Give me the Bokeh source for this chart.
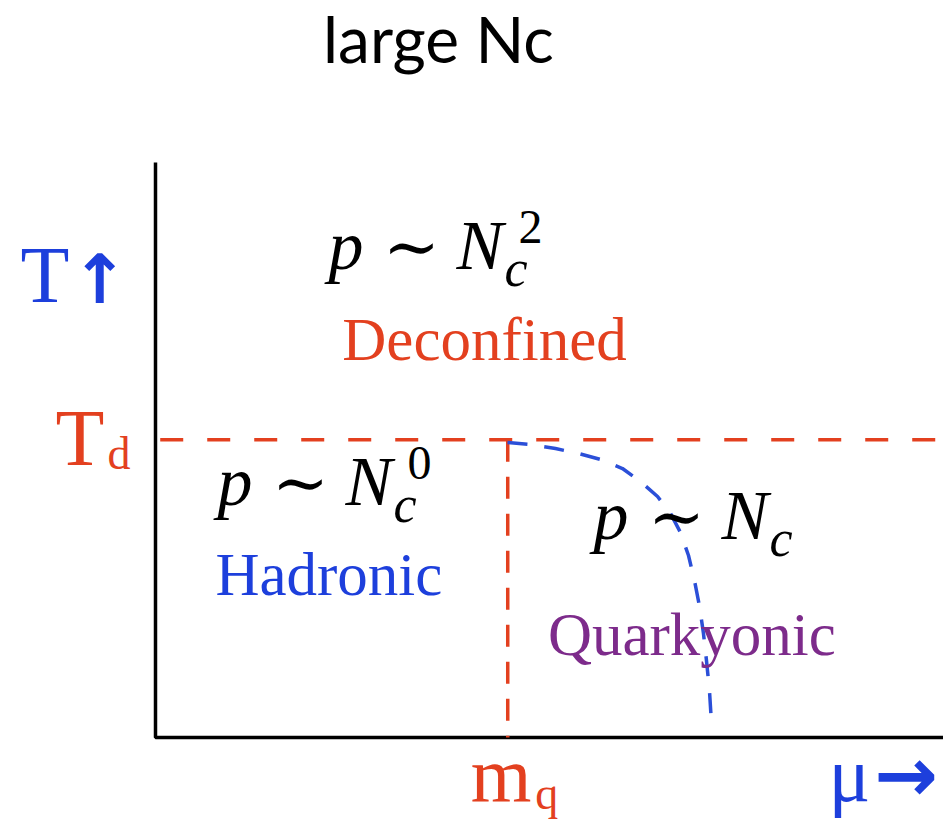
from bokeh.plotting import figure
from bokeh.models import Range1d, ColumnDataSource
from bokeh.core.properties import value
from bokeh.embed import file_html
from bokeh.resources import INLINE

# Schematic phase diagram of QCD at large N_c, axes normalised to 1
T_d = 0.518        # deconfinement temperature
m_q = 0.447        # quark chemical potential where baryon matter appears
mu_max = 1.0
T_max = 1.0

# boundary between hadronic and quarkyonic matter
boundary_mu = [0.4467, 0.4759, 0.5076, 0.5368, 0.5647, 0.5926, 0.6155, 0.6371, 0.6536,
               0.6662, 0.6764, 0.6840, 0.6904, 0.6954, 0.6992, 0.7030, 0.7056]
boundary_T = [0.5130, 0.5096, 0.5026, 0.4939, 0.4835, 0.4678, 0.4452, 0.4191, 0.3896,
              0.3565, 0.3165, 0.2730, 0.2278, 0.1809, 0.1339, 0.0817, 0.0243]

phase_names = ["Deconfined", "Hadronic", "Quarkyonic"]
pressure_exponents = ["2", "0", ""]   # p ~ N_c^k ; empty -> k = 1

RED = "#e3401f"
BLUE = "#1d3fdc"
PURPLE = "#7d2b8b"
DASH_BLUE = "#2b4fd8"

p = figure(width=943, height=830,
           x_range=Range1d(-0.1967, 1.0), y_range=Range1d(-0.1617, 1.2817),
           output_backend="svg", toolbar_location=None,
           x_axis_location=None, y_axis_location=None, min_border=0)
p.grid.visible = False
p.outline_line_color = None
p.background_fill_color = "white"
p.border_fill_color = "white"


def draw_text(xs, ys, texts, font, size, color, style="normal",
              x_off=0, y_off=0, align="left", shift=0.38):
    # y is the alphabetic baseline; shift lifts the glyph box onto it
    src = ColumnDataSource(dict(x=xs, y=ys, text=texts))
    p.text(x="x", y="y", text="text", source=src,
           text_font=value(font), text_font_size=f"{size}px", text_color=color,
           text_font_style=style, text_align=align,
           text_baseline="alphabetic", x_offset=x_off,
           y_offset=y_off - shift * size)


# axes
p.line([0, 0, mu_max], [T_max, 0, 0], line_color="black", line_width=3.5)

# deconfinement line and quark-mass threshold
p.line([0.006, mu_max], [T_d, T_d], line_color=RED, line_width=3.5, line_dash="23 24")
p.line([m_q, m_q], [T_d, 0], line_color=RED, line_width=3.5, line_dash="22 15")

# hadronic / quarkyonic boundary
p.line(boundary_mu, boundary_T, line_color=DASH_BLUE, line_width=3.5, line_dash="20 17")

# title
draw_text([0.359], [1.170], ["large Nc"], "Lato", 64, "black", align="center", shift=0.41)

# axis labels
draw_text([-0.1713], [0.751], ["T"], "Liberation Serif", 80, BLUE)
draw_text([-0.0711], [0.751], ["\u2191"], "DejaVu Sans", 68, BLUE, style="bold", align="center")
draw_text([-0.127], [0.468], ["T"], "Liberation Serif", 80, RED)
draw_text([-0.061], [0.463], ["d"], "Liberation Serif", 46, RED)
draw_text([0.400], [-0.115], ["m"], "Liberation Serif", 78, RED)
draw_text([0.482], [-0.127], ["q"], "Liberation Serif", 46, RED)
draw_text([0.854], [-0.115], ["\u03bc"], "Liberation Serif", 78, BLUE)
draw_text([0.912], [-0.115], ["\u2192"], "DejaVu Sans", 76, BLUE, style="bold")

# phase names
phase_x = [0.237, 0.076, 0.498]
phase_y = [0.652, 0.2435, 0.139]
phase_colors = [RED, BLUE, PURPLE]
for name, x, y, c in zip(phase_names, phase_x, phase_y, phase_colors):
    draw_text([x], [y], [name], "Liberation Serif", 61, c)

# pressure scaling  p ~ N_c^k
form_x = [0.2195, 0.0787, 0.5558]
form_y = [0.8087, 0.3983, 0.3391]
draw_text(form_x, form_y, ["p"] * 3, "Liberation Serif", 70, "black", style="italic")
draw_text(form_x, form_y, ["\u223c"] * 3, "DejaVu Serif", 68, "black",
          x_off=83, align="center")
draw_text(form_x, form_y, ["N"] * 3, "Liberation Serif", 70, "black",
          style="italic", x_off=128)
draw_text(form_x, form_y, ["c"] * 3, "Liberation Serif", 52, "black",
          style="italic", x_off=176, y_off=16)
sx = [x for x, k in zip(form_x, pressure_exponents) if k]
sy = [y for y, k in zip(form_y, pressure_exponents) if k]
sk = [k for k in pressure_exponents if k]
draw_text(sx, sy, sk, "Liberation Serif", 48, "black", x_off=190, y_off=-27)

open("out.html", "w").write(file_html(p, INLINE))
